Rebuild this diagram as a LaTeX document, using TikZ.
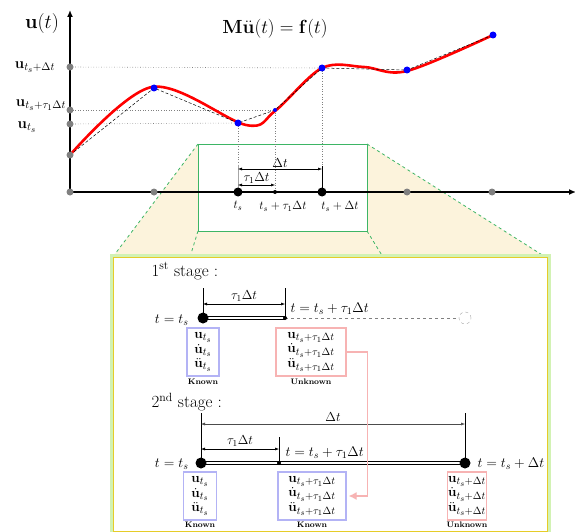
\RequirePackage{fix-cm}
\documentclass[tikz,border=0pt]{standalone}
\usepackage{amsmath,amssymb}
\usetikzlibrary{positioning,arrows.meta,calc}
\definecolor{zoomfill}{HTML}{FCF3DC}
\definecolor{zoomgreen}{HTML}{3DB565}
\definecolor{glowgreen}{HTML}{D2F2B4}
\definecolor{frameyellow}{HTML}{E6CC28}
\definecolor{knownblue}{HTML}{B3B3F5}
\definecolor{unknownred}{HTML}{F7B3B3}
\definecolor{ptgray}{HTML}{808080}
\DeclareMathSizes{13.5}{13.5}{10.5}{8}
\DeclareMathSizes{15}{15}{11}{8.5}
\newcommand{\bu}{\mathbf{u}}
\newcommand{\fs}[1]{\fontsize{#1}{#1}\selectfont}

\begin{document}
\begin{tikzpicture}[x=1pt,y=-1pt,>={Latex[length=4pt,width=3pt]},
  gpt/.style={circle,fill=ptgray,inner sep=0pt,minimum size=7pt},
  bpt/.style={circle,fill=blue,inner sep=0pt,minimum size=7pt},
  kpt/.style={circle,fill=black,inner sep=0pt,minimum size=9pt},
  spt/.style={circle,fill=black,inner sep=0pt,minimum size=4pt},
  guide/.style={ptgray,dotted,line width=0.6pt},
  dim/.style={<->,line width=0.5pt},
  knownbox/.style={draw=knownblue,line width=1.3pt,inner sep=0pt,align=center,
    minimum height=48pt,font=\fontsize{13.5}{14.6}\selectfont},
  unknownbox/.style={knownbox,draw=unknownred},
  tag/.style={font=\fs{8}\bfseries,inner sep=0.5pt}]
  \useasboundingbox (0,0) rectangle (575,532);
  % zoom region
  \fill[zoomfill] (198,144) -- (367,144) -- (547,258) -- (112,258) -- cycle;
  \draw[zoomgreen,fill=white,line width=0.8pt] (198,144) rectangle (367,231);
  \draw[zoomgreen,dashed,line width=0.8pt] (198,144) -- (112,258);
  \draw[zoomgreen,dashed,line width=0.8pt] (367,144) -- (547,258);
  \draw[zoomgreen,dashed,line width=0.8pt] (198,231) -- (190,257);
  \draw[zoomgreen,dashed,line width=0.8pt] (367,231) -- (383,257);
  % axes
  \coordinate (ytop) at (70,10);
  \coordinate (xend) at (576,192);
  \draw[line width=1.4pt,-{Latex[length=7pt,width=6pt]}] (70,192) -- (ytop);
  \draw[line width=1.4pt,-{Latex[length=7pt,width=6pt]}] (70,192) -- (xend);
  \node (ut) at (42,24) {\fs{20}$\bu(t)$};
  \node (eqn) at (275,29) {\fs{19}$\mathbf{M}\ddot{\bu}(t)=\mathbf{f}(t)$};
  % curve points
  \coordinate (c0) at (70,155);
  \coordinate (c1) at (154,88);
  \coordinate (c2) at (238,123);
  \coordinate (c3) at (275,110);
  \coordinate (c4) at (322,68);
  \coordinate (c5) at (407,70);
  \coordinate (c6) at (493,35);
  % guides
  \draw[guide] (70,67) -- (c4);
  \draw[guide] (70,110) -- (c3);
  \draw[guide] (70,124) -- (c2);
  \draw[guide] (c2) -- (238,192);
  \draw[guide] (c3) -- (275,192);
  \draw[guide] (c4) -- (322,192);
  \draw[red,line width=2.6pt] plot[smooth,tension=0.55] coordinates
    {(70,155) (152,87) (246,125) (275,111) (322,68) (364,67) (407,71) (493,35)};
  \draw[densely dashed,line width=0.5pt] (c0) -- (c1) -- (c2) -- (c3) -- (c4) -- (c5) -- (c6);
  % dimensions on the time axis
  \draw[black!35,line width=0.6pt] (238,165) -- (238,192);
  \draw[line width=0.6pt] (322,166) -- (322,192);
  \draw[dim] (238,169) -- node[above=-2pt,font=\fs{13}] (dt) {$\Delta t$} (322,169);
  \draw[dim] (238,185) -- node[above=-2pt,font=\fs{13}] (tdt) {$\tau_1\Delta t$} (275,185);
  % dots
  \node[gpt] (y0) at (70,192) {};
  \node[gpt] (y1) at (70,155) {};
  \node[gpt] (y2) at (70,124) {};
  \node[gpt] (y3) at (70,110) {};
  \node[gpt] (y4) at (70,67) {};
  \node[gpt] (x1) at (154,192) {};
  \node[gpt] (x5) at (407,192) {};
  \node[gpt] (x6) at (492,192) {};
  \node[kpt] (ts) at (238,192) {};
  \node[spt] (tm) at (275,192) {};
  \node[kpt] (te) at (322,192) {};
  \foreach \p in {c1,c2,c4,c5,c6} \node[bpt] at (\p) {};
  \node[circle,fill=blue,inner sep=0pt,minimum size=4pt] at (c3) {};
  \node (lts) at (238,206) {\fs{12}$t_s$};
  \node (ltm) at (283,206) {\fs{12}$t_s+\tau_1\Delta t$};
  \node (lte) at (340,206) {\fs{12}$t_s+\Delta t$};
  \node (lu4) at (35,67) {\fs{15}$\bu_{t_s+\Delta t}$};
  \node (lu3) at (41,105) {\fs{15}$\bu_{t_s+\tau_1\Delta t}$};
  \node (lu2) at (27,127) {\fs{15}$\bu_{t_s}$};
  % stage box
  \draw[glowgreen,line width=7pt] (113,257) rectangle (547,531);
  \draw[frameyellow,fill=white,line width=1pt] (113,257) rectangle (547,531);
  % 1st stage
  \node[anchor=west,font=\fs{17}] (st1) at (148,271) {1\textsuperscript{st} stage :};
  \draw[line width=0.5pt] (203,288) -- (203,318);
  \draw[line width=0.5pt] (285,288) -- (285,318);
  \draw[dim] (203,304) -- node[above=-1pt,font=\fs{13}] (a1) {$\tau_1\Delta t$} (285,304);
  \draw[ptgray,dashed,line width=0.8pt] (285,318) -- (465,318);
  \draw[double=white,double distance=2pt,line width=0.8pt] (203,318) -- (285,318);
  \node[kpt,minimum size=11pt] (s1a) at (203,318) {};
  \node[spt] (s1b) at (285,318) {};
  \node[circle,draw=ptgray!70,dashed,fill=white,inner sep=0pt,minimum size=12pt] (s1c) at (465,318) {};
  \node[anchor=east,font=\fs{14}] (s1l) at (192,320) {$t=t_s$};
  \node[anchor=west,font=\fs{14}] (s1r) at (287,309) {$t=t_s+\tau_1\Delta t$};
  \node[knownbox,minimum width=32pt] (k1) at (203,352)
    {$\bu_{t_s}$\\$\dot{\bu}_{t_s}$\\$\ddot{\bu}_{t_s}$};
  \node[unknownbox,minimum width=70pt] (u1) at (311,352)
    {$\bu_{t_s+\tau_1\Delta t}$\\$\dot{\bu}_{t_s+\tau_1\Delta t}$\\$\ddot{\bu}_{t_s+\tau_1\Delta t}$};
  \node[tag,below=2pt of k1] (k1t) {Known};
  \node[tag,below=2pt of u1] (u1t) {Unknown};
  % 2nd stage
  \node[anchor=west,font=\fs{17}] (st2) at (148,402) {2\textsuperscript{nd} stage :};
  \draw[line width=0.5pt] (201,413) -- (201,463);
  \draw[line width=0.5pt] (465,413) -- (465,463);
  \draw[line width=0.5pt] (279,437) -- (279,463);
  \draw[dim,black!70] (201,424) -- node[above=-1pt,font=\fs{13},black] (a2) {$\Delta t$} (465,424);
  \draw[dim] (201,449) -- node[above=-1pt,font=\fs{13}] (a3) {$\tau_1\Delta t$} (279,449);
  \draw[double=white,double distance=2pt,line width=0.8pt] (201,463) -- (465,463);
  \node[kpt,minimum size=11pt] (s2a) at (201,463) {};
  \node[spt] (s2b) at (279,463) {};
  \node[kpt,minimum size=11pt] (s2c) at (465,463) {};
  \node[anchor=east,font=\fs{14}] (s2l) at (192,464) {$t=t_s$};
  \node[anchor=west,font=\fs{14}] (s2m) at (282,453) {$t=t_s+\tau_1\Delta t$};
  \node[anchor=west,font=\fs{14}] (s2r) at (474,464) {$t=t_s+\Delta t$};
  \node[knownbox,minimum width=33pt] (k2a) at (200,496)
    {$\bu_{t_s}$\\$\dot{\bu}_{t_s}$\\$\ddot{\bu}_{t_s}$};
  \node[knownbox,minimum width=68pt] (k2b) at (312,496)
    {$\bu_{t_s+\tau_1\Delta t}$\\$\dot{\bu}_{t_s+\tau_1\Delta t}$\\$\ddot{\bu}_{t_s+\tau_1\Delta t}$};
  \node[unknownbox,minimum width=39pt] (u2) at (467,496)
    {$\bu_{t_s+\Delta t}$\\$\dot{\bu}_{t_s+\Delta t}$\\$\ddot{\bu}_{t_s+\Delta t}$};
  \node[tag,below=1pt of k2a] (k2at) {Known};
  \node[tag,below=1pt of k2b] (k2bt) {Known};
  \node[tag,below=1pt of u2] (u2t) {Unknown};
  % carry the unknowns over
  \draw[unknownred,line width=1.2pt,-{Latex[length=8pt,width=8pt]},shorten >=2pt]
    (u1.east) -- ++(21,0) |- (k2b.east);
\end{tikzpicture}
\end{document}
